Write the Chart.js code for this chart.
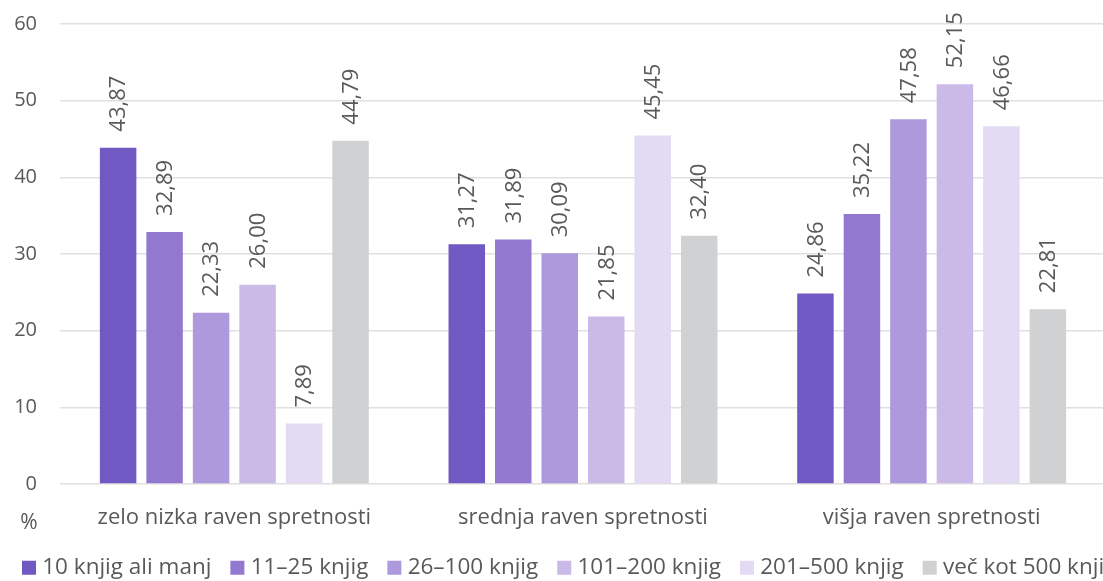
<!DOCTYPE html>
<html>
<head>
<meta charset="utf-8">
<script src="https://cdn.jsdelivr.net/npm/chart.js"></script>
<style>
  html, body { margin: 0; padding: 0; background: #fff; overflow: hidden; }
  #wrap { position: relative; width: 1200px; height: 581px; }
</style>
</head>
<body>
<div id="wrap"><canvas id="chart"></canvas></div>
<script>
// podatki
const categories = ['zelo nizka raven spretnosti', 'srednja raven spretnosti', 'višja raven spretnosti'];
const seriesNames = ['10 knjig ali manj', '11–25 knjig', '26–100 knjig', '101–200 knjig', '201–500 knjig', 'več kot 500 knjig'];
const s10 = [43.87, 31.27, 24.86];
const s11_25 = [32.89, 31.89, 35.22];
const s26_100 = [22.33, 30.09, 47.58];
const s101_200 = [26.00, 21.85, 52.15];
const s201_500 = [7.89, 45.45, 46.66];
const s500 = [44.79, 32.40, 22.81];
const yTicks = [0, 10, 20, 30, 40, 50, 60];

const colors = ['#7059c2', '#9378d0', '#ad99db', '#cbb9e8', '#e3daf3', '#d0d1d3'];
const allSeries = [s10, s11_25, s26_100, s101_200, s201_500, s500];
const FONT = "'Open Sans', sans-serif";
const TXT = '#595959';

// oznake vrednosti (navpično zasukane) in znak %
const valueLabels = {
  id: 'valueLabels',
  afterDatasetsDraw(chart) {
    const ctx = chart.ctx;
    ctx.save();
    ctx.font = '22px ' + FONT;
    ctx.fillStyle = TXT;
    ctx.textAlign = 'left';
    ctx.textBaseline = 'middle';
    chart.data.datasets.forEach((ds, i) => {
      chart.getDatasetMeta(i).data.forEach((bar, j) => {
        ctx.save();
        ctx.translate(bar.x + 1, bar.y - 16);
        ctx.rotate(-Math.PI / 2);
        ctx.fillText(ds.data[j].toFixed(2).replace('.', ','), 0, 0);
        ctx.restore();
      });
    });
    ctx.textAlign = 'center';
    ctx.font = '21px ' + FONT;
    ctx.fillText('%', 29, chart.chartArea.bottom + 39);
    ctx.restore();
  }
};

new Chart(document.getElementById('chart'), {
  type: 'bar',
  data: {
    labels: categories,
    datasets: allSeries.map((d, i) => ({
      label: seriesNames[i],
      data: d,
      backgroundColor: colors[i],
      borderWidth: 0,
      categoryPercentage: 0.8,
      barPercentage: 0.785
    }))
  },
  options: {
    responsive: true,
    maintainAspectRatio: false,
    animation: false,
    layout: { padding: { left: 3, right: 0, top: 24, bottom: -8 } },
    plugins: {
      tooltip: { enabled: false },
      legend: {
        position: 'bottom',
        align: 'start',
        labels: {
          font: { family: FONT, size: 22.5 },
          color: TXT,
          usePointStyle: true,
          pointStyle: 'rect',
          boxWidth: 4,
          boxHeight: 14,
          padding: 24
        }
      }
    },
    scales: {
      x: {
        afterFit(scale) { scale.height -= 10; },
        grid: { display: false },
        border: { display: false },
        ticks: { font: { family: FONT, size: 22 }, color: TXT, padding: 12 }
      },
      y: {
        min: 0,
        max: 60,
        afterFit(scale) {
          scale.width = 57;
          scale.paddingTop = 0;
          scale.paddingBottom = 0;
        },
        afterBuildTicks(scale) { scale.ticks = yTicks.map(v => ({ value: v })); },
        grid: { color: '#e0e0e0', lineWidth: 1.5, drawTicks: false },
        border: { display: false },
        ticks: { font: { family: FONT, size: 20 }, color: TXT, padding: 23 }
      },
      // prazna desna os, da se risalna površina konča pri ~1106 px
      yRight: {
        position: 'right',
        min: 0,
        max: 60,
        afterFit(scale) {
          scale.width = 94;
          scale.paddingTop = 0;
          scale.paddingBottom = 0;
        },
        grid: { display: false },
        border: { display: false },
        ticks: { display: false }
      }
    }
  },
  plugins: [valueLabels]
});
</script>
</body>
</html>
